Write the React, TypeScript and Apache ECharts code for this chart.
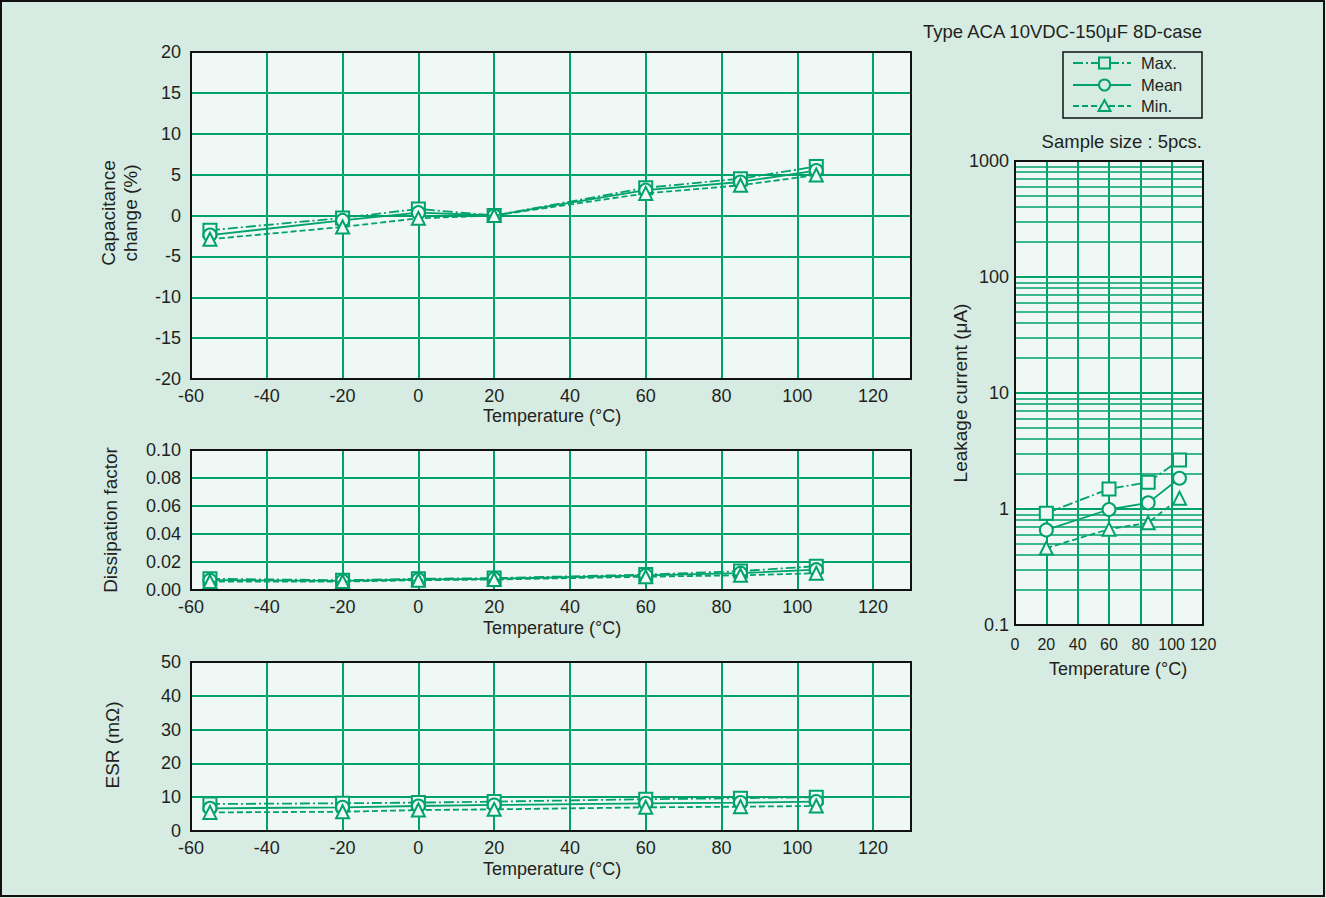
import React, { useEffect, useRef } from 'react';
import * as echarts from 'echarts';

// ---- data ----
const temps = [-55, -20, 0, 20, 60, 85, 105];
const capMax = [-1.8, -0.3, 0.8, 0, 3.4, 4.5, 6.0];
const capMean = [-2.4, -0.6, 0.35, 0, 3.1, 4.1, 5.5];
const capMin = [-2.9, -1.4, -0.35, 0, 2.7, 3.7, 4.95];
const dfMax = [0.008, 0.007, 0.008, 0.0085, 0.011, 0.0135, 0.017];
const dfMean = [0.007, 0.0065, 0.0075, 0.008, 0.0105, 0.012, 0.0145];
const dfMin = [0.006, 0.006, 0.007, 0.0075, 0.0095, 0.0105, 0.012];
const esrMax = [8.0, 8.2, 8.4, 8.7, 9.4, 9.7, 10.0];
const esrMean = [6.7, 7.0, 7.4, 7.7, 8.2, 8.4, 8.7];
const esrMin = [5.5, 5.7, 6.2, 6.4, 7.0, 7.2, 7.4];
const leakTemps = [20, 60, 85, 105];
const leakMax = [0.92, 1.49, 1.7, 2.64];
const leakMean = [0.66, 0.99, 1.13, 1.84];
const leakMin = [0.46, 0.67, 0.76, 1.24];
const leakMinorLines = [0.2, 0.3, 0.4, 0.5, 0.6, 0.7, 0.8, 0.9, 2, 3, 4, 5, 6, 7, 8, 9, 20, 30, 40, 50, 60, 70, 80, 90, 200, 300, 400, 500, 600, 700, 800, 900];

const title = 'Type ACA 10VDC-150μF 8D-case';
const sampleText = 'Sample size : 5pcs.';
const legendNames = ['Max.', 'Mean', 'Min.'];
const xName = 'Temperature (°C)';

// ---- style ----
const GREEN = '#00a26b';
const BG = '#d6ece2';
const PLOT_BG = '#eff8f4';
const TEXT = '#231f20';
const FONT = '"Liberation Sans", Arial, Helvetica, sans-serif';
const DASHDOT = [10, 3, 2, 3];
const DASH = [6, 3];

const grids = [
  { left: 191, top: 52, width: 720, height: 327 },
  { left: 191, top: 450, width: 720, height: 140 },
  { left: 191, top: 662, width: 720, height: 169 },
  { left: 1015, top: 161, width: 188, height: 464 },
];

function pairs(xs: number[], ys: number[]) {
  return xs.map((x, i) => [x, ys[i]]);
}

function mkSeries(idx: number, xs: number[], ys: number[], kind: number, size: number) {
  const symbols = ['rect', 'circle', 'triangle'];
  const types: any[] = [DASHDOT, 'solid', DASH];
  return {
    type: 'line',
    xAxisIndex: idx,
    yAxisIndex: idx,
    data: pairs(xs, ys),
    symbol: symbols[kind],
    symbolSize: size,
    showAllSymbol: true,
    lineStyle: { color: GREEN, width: 1.8, type: types[kind] },
    itemStyle: { color: PLOT_BG, borderColor: GREEN, borderWidth: 2 },
    z: 3 + kind,
    silent: true,
  };
}

export default function App() {
  const ref = useRef<HTMLDivElement>(null);
  useEffect(() => {
    if (!ref.current) return;
    const chart = echarts.init(ref.current, undefined, { renderer: 'svg' });
    const labelStyle = { color: TEXT, fontSize: 18, fontFamily: FONT };
    const tempAxis = (i: number) => ({
      type: 'value',
      gridIndex: i,
      min: -60,
      max: 130,
      interval: 20,
      axisLine: { show: false },
      axisTick: { show: false },
      axisLabel: { ...labelStyle, margin: 8, formatter: (v: number) => (v === 130 ? '' : String(v)) },
      splitLine: { show: true, lineStyle: { color: GREEN, width: 2 } },
    });
    const valAxis = (i: number, min: number, max: number, interval: number, fmt: (v: number) => string) => ({
      type: 'value',
      gridIndex: i,
      min,
      max,
      interval,
      axisLine: { show: false, onZero: false },
      axisTick: { show: false },
      axisLabel: { ...labelStyle, margin: 10, formatter: fmt },
      splitLine: { show: true, lineStyle: { color: GREEN, width: 2 } },
    });

    const borders = grids.map((g) => ({
      type: 'rect',
      shape: { x: g.left, y: g.top, width: g.width, height: g.height },
      style: { fill: 'none', stroke: '#111', lineWidth: 2 },
      z: 100,
      silent: true,
    }));

    const txt = (x: number, y: number, text: string, opts: any = {}) => ({
      type: 'text',
      x,
      y,
      rotation: opts.rotation || 0,
      style: {
        text,
        fill: TEXT,
        font: `${opts.size || 18}px ${FONT}`,
        textAlign: opts.align || 'center',
        textVerticalAlign: 'middle',
        lineHeight: opts.lineHeight || 22,
      },
      z: 101,
      silent: true,
    });

    const legendRows = [63, 85, 106];
    const legendEls: any[] = [
      {
        type: 'rect',
        shape: { x: 1063, y: 52, width: 139, height: 66 },
        style: { fill: BG, stroke: '#111', lineWidth: 1.5 },
        z: 100,
      },
    ];
    legendRows.forEach((y, k) => {
      legendEls.push({
        type: 'line',
        shape: { x1: 1073, y1: y, x2: 1131, y2: y },
        style: { stroke: GREEN, lineWidth: 1.8, lineDash: k === 0 ? DASHDOT : k === 2 ? DASH : null },
        z: 101,
      });
      if (k === 0) {
        legendEls.push({ type: 'rect', shape: { x: 1099, y: y - 5.5, width: 11, height: 11 }, style: { fill: BG, stroke: GREEN, lineWidth: 2 }, z: 102 });
      } else if (k === 1) {
        legendEls.push({ type: 'circle', shape: { cx: 1104.5, cy: y, r: 5.5 }, style: { fill: BG, stroke: GREEN, lineWidth: 2 }, z: 102 });
      } else {
        legendEls.push({ type: 'polygon', shape: { points: [[1104.5, y - 6], [1110.5, y + 5], [1098.5, y + 5]] }, style: { fill: BG, stroke: GREEN, lineWidth: 2 }, z: 102 });
      }
      legendEls.push(txt(1141, y, legendNames[k], { align: 'left', size: 16.5 }));
    });

    const option: any = {
      animation: false,
      backgroundColor: BG,
      grid: grids.map((g) => ({ ...g, show: true, backgroundColor: PLOT_BG, borderWidth: 0, containLabel: false })),
      xAxis: [
        tempAxis(0),
        tempAxis(1),
        tempAxis(2),
        {
          type: 'value',
          gridIndex: 3,
          min: 0,
          max: 120,
          interval: 20,
          axisLine: { show: false },
          axisTick: { show: false },
          axisLabel: { color: TEXT, fontSize: 16, fontFamily: FONT, margin: 11, hideOverlap: false, interval: 0 },
          splitLine: { show: true, lineStyle: { color: GREEN, width: 2 } },
        },
      ],
      yAxis: [
        valAxis(0, -20, 20, 5, (v) => String(v)),
        valAxis(1, 0, 0.1, 0.02, (v) => v.toFixed(2)),
        valAxis(2, 0, 50, 10, (v) => String(v)),
        {
          type: 'log',
          gridIndex: 3,
          logBase: 10,
          min: 0.1,
          max: 1000,
          axisLine: { show: false },
          axisTick: { show: false },
          axisLabel: { ...labelStyle, margin: 6, formatter: (v: number) => (v < 1 ? '0.1' : String(Math.round(v))) },
          splitLine: { show: true, lineStyle: { color: GREEN, width: 2 } },
        },
      ],
      series: [
        mkSeries(0, temps, capMax, 0, 13),
        mkSeries(0, temps, capMean, 1, 13),
        mkSeries(0, temps, capMin, 2, 13),
        mkSeries(1, temps, dfMax, 0, 13),
        mkSeries(1, temps, dfMean, 1, 13),
        mkSeries(1, temps, dfMin, 2, 13),
        mkSeries(2, temps, esrMax, 0, 13),
        mkSeries(2, temps, esrMean, 1, 13),
        mkSeries(2, temps, esrMin, 2, 13),
        {
          ...mkSeries(3, leakTemps, leakMax, 0, 13),
          markLine: {
            silent: true,
            symbol: 'none',
            label: { show: false },
            lineStyle: { color: GREEN, width: 1.6, type: 'solid' },
            data: leakMinorLines.map((v) => ({ yAxis: v })),
            z: 1,
          },
        },
        mkSeries(3, leakTemps, leakMean, 1, 13),
        mkSeries(3, leakTemps, leakMin, 2, 13),
      ],
      graphic: [
        {
          type: 'rect',
          shape: { x: 1, y: 1, width: 1323, height: 895 },
          style: { fill: 'none', stroke: '#111', lineWidth: 2 },
          z: 100,
          silent: true,
        },
        ...borders,
        txt(1202, 31, title, { align: 'right', size: 18.5 }),
        txt(1202, 141, sampleText, { align: 'right', size: 18.5 }),
        ...legendEls,
        txt(119, 213, 'Capacitance\nchange (%)', { rotation: Math.PI / 2, lineHeight: 22, size: 19 }),
        txt(110, 520, 'Dissipation factor', { rotation: Math.PI / 2, size: 19 }),
        txt(112, 745, 'ESR (mΩ)', { rotation: Math.PI / 2, size: 19 }),
        txt(960, 393, 'Leakage current (μA)', { rotation: Math.PI / 2, size: 19 }),
        txt(552, 416, xName),
        txt(552, 628, xName),
        txt(552, 869, xName),
        txt(1118, 669, xName),
      ],
    };
    chart.setOption(option);
    return () => chart.dispose();
  }, []);
  return (
    <div
      ref={ref}
      style={{ position: 'fixed', left: 0, top: 0, width: 1326, height: 898 }}
    />
  );
}
